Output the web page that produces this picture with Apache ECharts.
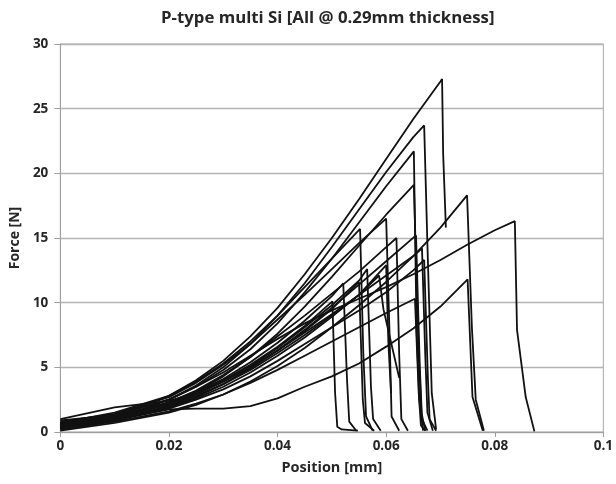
<!DOCTYPE html>
<html>
<head>
<meta charset="utf-8">
<script src="https://cdn.jsdelivr.net/npm/echarts@6/dist/echarts.min.js"></script>
<style>
  html, body { margin: 0; padding: 0; background: #fff; }
  #chart { width: 616px; height: 484px; }
</style>
</head>
<body>
<div id="chart"></div>
<script>
// Shared displacement stations (mm) for the loading part of every specimen
const positionSteps = [0, 0.01, 0.02, 0.025, 0.03, 0.035, 0.04, 0.045, 0.05, 0.055, 0.06, 0.065, 0.07, 0.075, 0.08];

// Force (N) at each station while loading, one row per specimen
const loadingForce = [
  [0.5, 1.2, 2.8, 4.0, 5.5, 7.4, 9.6, 12.2, 15.0, 18.0, 21.1, 24.2, 27.1],
  [0.3, 1.0, 2.5, 3.6, 5.0, 6.8, 9.0, 11.5, 14.3, 17.2, 20.1, 22.8],
  [0.6, 1.3, 2.5, 3.5, 4.8, 6.4, 8.4, 10.8, 13.4, 16.2, 19.0],
  [0.4, 1.1, 2.2, 3.1, 4.3, 5.8, 7.6, 9.7, 12.0, 14.4, 16.8],
  [0.1, 0.7, 1.5, 2.1, 2.9, 3.9, 5.1, 6.5, 8.1, 9.8, 11.6, 13.6, 15.8],
  [0.6, 1.3, 2.5, 3.5, 4.6, 5.9, 7.2, 8.4, 9.4, 10.3, 11.2, 12.2, 13.3, 14.5, 15.6],
  [0.2, 0.9, 1.75, 1.8, 1.8, 2.0, 2.6, 3.5, 4.3, 5.3, 6.6, 8.0, 9.7],
  [0.8, 1.4, 2.7, 3.8, 5.2, 6.8, 8.7, 10.6, 12.6, 14.6],
  [0.7, 1.5, 2.8, 3.9, 5.3, 7.0, 9.0, 11.2, 13.4],
  [0.5, 1.2, 2.3, 3.2, 4.4, 5.8, 7.4, 9.0, 10.7, 12.4, 14.3],
  [0.3, 0.9, 1.9, 2.7, 3.7, 4.9, 6.3, 7.9, 9.6, 11.4, 13.2],
  [0.9, 1.3, 2.1, 2.9, 3.9, 5.0, 6.3, 7.7, 9.1, 10.6, 12.1, 13.6],
  [0.5, 1.1, 2.2, 3.0, 4.0, 5.2, 6.6, 8.2],
  [0.7, 1.2, 2.3, 3.1, 4.1, 5.4, 6.9, 8.6, 10.5],
  [1.0, 1.9, 2.4, 3.0, 3.9, 5.0, 6.3, 7.8, 9.5],
  [0.4, 1.0, 2.0, 2.8, 3.7, 4.8, 6.1, 7.5, 9.0, 10.6],
  [0.2, 0.8, 1.6, 2.2, 2.9, 3.8, 4.8, 5.9, 7.0, 8.1, 9.2],
  [0.6, 1.1, 2.1, 2.9, 3.9, 5.1, 6.5, 8.1, 9.8, 11.7],
  [0.3, 0.9, 1.9, 2.6, 3.5, 4.6, 5.9, 7.3, 8.9, 10.6],
  [0.5, 1.0, 1.8, 2.5, 3.3, 4.3, 5.5, 6.8, 8.1, 9.4, 10.8, 12.5]
];

// Fracture point of each specimen: position (mm) and peak force (N)
const peakPosition = [0.0703, 0.0670, 0.0651, 0.0651, 0.0749, 0.0837, 0.0750, 0.0600, 0.0552, 0.0619,
                      0.0655, 0.0666, 0.0501, 0.0521, 0.0550, 0.0587, 0.0653, 0.0565, 0.0600, 0.0670];
const peakForce    = [27.3, 23.7, 21.7, 19.1, 18.3, 16.3, 11.8, 16.5, 15.7, 15.0,
                      15.2, 14.2, 10.1, 11.5, 11.6, 12.1, 10.3, 12.6, 12.9, 13.3];

// Post-fracture unloading points [position, force] per specimen
const unloading = [
  [[0.0705, 21.5], [0.0710, 15.8]],
  [[0.0676, 14.5], [0.0684, 3.0], [0.0692, 0.2]],
  [[0.0656, 8.0], [0.0661, 2.5], [0.0668, 0.1]],
  [[0.0660, 6.0], [0.0665, 1.5], [0.0672, 0.1]],
  [[0.0758, 8.0], [0.0765, 2.5], [0.0780, 0.1]],
  [[0.0841, 7.9], [0.0857, 2.7], [0.0873, 0.05]],
  [[0.0759, 2.7], [0.0778, 0.1]],
  [[0.0606, 8.0], [0.0610, 1.2], [0.0624, 0.1]],
  [[0.0558, 6.0], [0.0563, 1.2], [0.0575, 0.1]],
  [[0.0624, 6.0], [0.0628, 1.0], [0.0640, 0.1]],
  [[0.0662, 5.0], [0.0666, 1.0], [0.0676, 0.1]],
  [[0.0672, 6.0], [0.0676, 1.5], [0.0686, 0.1]],
  [[0.0506, 3.0], [0.0510, 0.4], [0.0518, 0.2], [0.0548, 0.1]],
  [[0.0528, 4.0], [0.0532, 0.8], [0.0545, 0.1]],
  [[0.0557, 2.5], [0.0561, 0.7], [0.0578, 0.1]],
  [[0.0595, 9.5], [0.0624, 4.2]],
  [[0.0660, 3.0], [0.0664, 0.5], [0.0672, 0.1]],
  [[0.0572, 3.5], [0.0576, 1.0], [0.0590, 0.1]],
  [[0.0604, 7.0], [0.0609, 3.0]],
  [[0.0677, 4.0], [0.0680, 1.0], [0.0692, 0.1]]
];

const positionTicks = [0, 0.02, 0.04, 0.06, 0.08, 0.1];
const forceTicks = [0, 5, 10, 15, 20, 25, 30];

const series = loadingForce.map((row, i) => {
  const pts = row.map((f, k) => [positionSteps[k], f]);
  pts.push([peakPosition[i], peakForce[i]]);
  unloading[i].forEach(p => pts.push(p));
  return {
    type: 'line',
    data: pts,
    showSymbol: false,
    symbol: 'none',
    smooth: false,
    lineStyle: { color: '#111', width: 1.8 },
    emphasis: { disabled: true },
    silent: true
  };
});

const chart = echarts.init(document.getElementById('chart'), null, { renderer: 'canvas' });
const fontFamily = '"Open Sans", Lato, sans-serif';
const textColor = '#262626';
chart.setOption({
  animation: false,
  backgroundColor: '#fff',
  title: {
    text: 'P-type multi Si [All @ 0.29mm thickness]',
    left: 156,
    top: 5,
    textStyle: { fontFamily, fontSize: 16.8, fontWeight: 'bold', color: textColor }
  },
  grid: {
    left: 60, right: 10, top: 44, bottom: 52,
    show: true, borderColor: '#a8a8a8', borderWidth: 1
  },
  xAxis: {
    type: 'value',
    min: positionTicks[0],
    max: positionTicks[positionTicks.length - 1],
    interval: 0.02,
    name: 'Position [mm]',
    nameLocation: 'middle',
    nameGap: 28,
    nameTextStyle: { fontFamily, fontSize: 14.5, fontWeight: 'bold', color: textColor },
    axisLine: { lineStyle: { color: '#a0a0a0' } },
    axisTick: { show: true, length: 5, lineStyle: { color: '#a0a0a0' } },
    axisLabel: {
      fontFamily, fontSize: 13.5, fontWeight: 'bold', color: textColor, margin: 7,
      formatter: v => String(+v.toFixed(2))
    },
    splitLine: { show: false }
  },
  yAxis: {
    type: 'value',
    min: forceTicks[0],
    max: forceTicks[forceTicks.length - 1],
    interval: 5,
    name: 'Force [N]',
    nameLocation: 'middle',
    nameGap: 35,
    nameRotate: 90,
    nameTextStyle: { fontFamily, fontSize: 14, fontWeight: 'bold', color: textColor },
    axisLine: { show: true, lineStyle: { color: '#a0a0a0' } },
    axisTick: { show: true, length: 6, lineStyle: { color: '#a0a0a0' } },
    axisLabel: { fontFamily, fontSize: 13.5, fontWeight: 'bold', color: textColor, margin: 12 },
    splitLine: { show: true, lineStyle: { color: '#b4b4b4', width: 1.3 } }
  },
  series
});
</script>
</body>
</html>
